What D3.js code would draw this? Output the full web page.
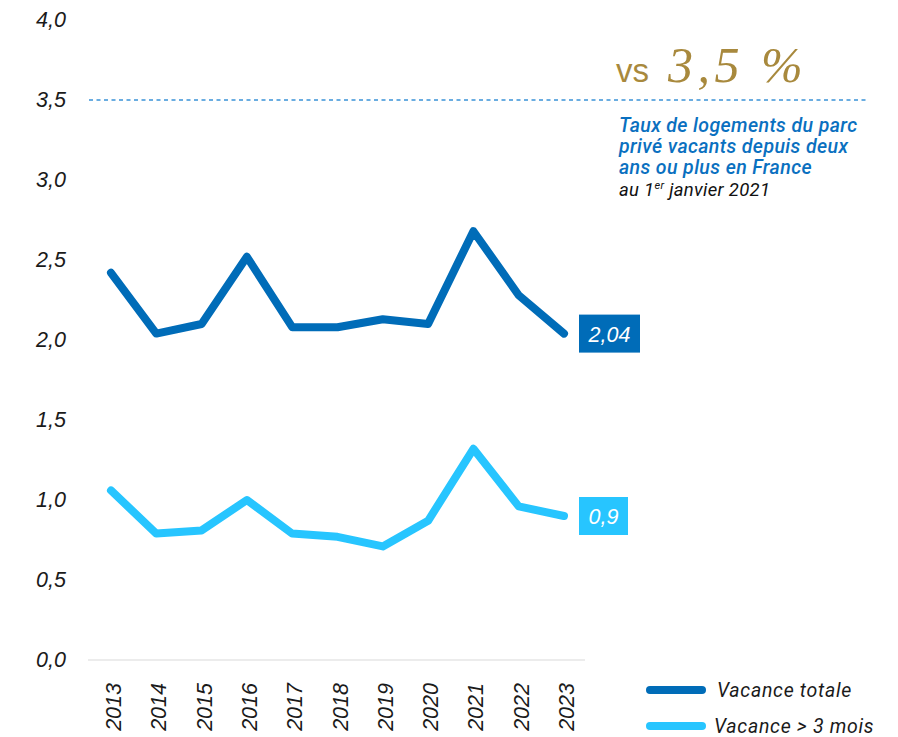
<!DOCTYPE html>
<html>
<head>
<meta charset="utf-8">
<script src="https://cdn.jsdelivr.net/npm/d3@7"></script>
<style>
  body { margin: 0; background: #fff; }
</style>
</head>
<body>
<div id="chart"></div>
<script>
var years = [2013, 2014, 2015, 2016, 2017, 2018, 2019, 2020, 2021, 2022, 2023];
var vacanceTotale = [2.42, 2.04, 2.10, 2.52, 2.08, 2.08, 2.13, 2.10, 2.68, 2.28, 2.04];
var vacance3mois = [1.06, 0.79, 0.81, 1.00, 0.79, 0.77, 0.71, 0.87, 1.32, 0.96, 0.90];
var yTicks = [0, 0.5, 1, 1.5, 2, 2.5, 3, 3.5, 4];
var seriesNames = ["Vacance totale", "Vacance > 3 mois"];
var endLabels = ["2,04", "0,9"];
var reference = 3.5;

var colors = ["#006CB8", "#27C5FF"];

var W = 898, H = 737;
var sans = "'Liberation Sans', Arial, sans-serif";

var x = d3.scaleLinear()
    .domain([2013, 2023])
    .range([111, 564]);

var y = d3.scaleLinear()
    .domain([0, 4])
    .range([660, 20]);

var fmt = function(d) { return d3.format(".1f")(d).replace(".", ","); };

var svg = d3.select("#chart").append("svg")
    .attr("width", W)
    .attr("height", H)
    .attr("font-family", sans);

// y axis labels
var yAxis = d3.axisLeft(y)
    .tickValues(yTicks)
    .tickFormat(fmt)
    .tickSize(0)
    .tickPadding(0);
var gy = svg.append("g")
    .attr("transform", "translate(66,0)")
    .call(yAxis);
gy.select(".domain").remove();
gy.attr("font-family", sans).attr("font-size", 21.5);
gy.selectAll("text")
    .attr("font-style", "italic")
    .attr("fill", "#1a1a1a");

// baseline
svg.append("line")
    .attr("x1", 88).attr("x2", 585)
    .attr("y1", y(0)).attr("y2", y(0))
    .attr("stroke", "#d9d9d9")
    .attr("stroke-width", 1);

// x axis labels
var gx = svg.append("g").attr("class", "x axis");
gx.selectAll("text")
    .data(years)
  .enter().append("text")
    .attr("transform", function(d) { return "translate(" + (x(d) + 10) + ",683) rotate(-90)"; })
    .attr("text-anchor", "end")
    .attr("font-size", 21.5)
    .attr("font-style", "italic")
    .attr("fill", "#1a1a1a")
    .text(function(d) { return d; });

// reference line
svg.append("line")
    .attr("x1", 89).attr("x2", 866)
    .attr("y1", y(reference)).attr("y2", y(reference))
    .attr("stroke", "#3A93D8")
    .attr("stroke-width", 1.3)
    .attr("stroke-dasharray", "4,3.5");

// annotation
svg.append("text")
    .attr("x", 616)
    .attr("y", 82)
    .attr("fill", "#A8893D")
    .attr("font-size", 33)
    .text("vs");
svg.append("text")
    .attr("x", 668)
    .attr("y", 82)
    .attr("fill", "#A8893D")
    .attr("font-size", 50)
    .attr("font-style", "italic")
    .attr("letter-spacing", 4.5)
    .attr("font-family", "'Liberation Serif', 'Times New Roman', serif")
    .text("3,5 %");

var noteLines = ["Taux de logements du parc", "privé vacants depuis deux", "ans ou plus en France"];
svg.selectAll("text.note")
    .data(noteLines)
  .enter().append("text")
    .attr("class", "note")
    .attr("x", 619)
    .attr("y", function(d, i) { return 132 + i * 21; })
    .attr("font-size", 19.5)
    .attr("font-style", "italic")
    .attr("font-weight", 500)
    .attr("letter-spacing", 0.4)
    .attr("font-family", "Roboto, sans-serif")
    .attr("fill", "#0A70C0")
    .text(function(d) { return d; });

var dateNote = svg.append("text")
    .attr("x", 619)
    .attr("y", 196)
    .attr("font-size", 18.5)
    .attr("font-style", "italic")
    .attr("letter-spacing", 0.3)
    .attr("font-family", "Roboto, sans-serif")
    .attr("fill", "#111");
dateNote.append("tspan").text("au 1");
dateNote.append("tspan").attr("font-size", 11).attr("dy", -7).text("er");
dateNote.append("tspan").attr("dy", 7).text(" janvier 2021");

// lines
var line = d3.line()
    .x(function(d, i) { return x(years[i]); })
    .y(function(d) { return y(d); });

var allSeries = [vacanceTotale, vacance3mois];

svg.selectAll("path.serie")
    .data(allSeries)
  .enter().append("path")
    .attr("class", "serie")
    .attr("d", line)
    .attr("fill", "none")
    .attr("stroke", function(d, i) { return colors[i]; })
    .attr("stroke-width", 8)
    .attr("stroke-linejoin", "round")
    .attr("stroke-linecap", "round");

// end labels
var boxW = [61, 49];
allSeries.forEach(function(s, i) {
    var v = s[s.length - 1];
    var cy = y(v);
    svg.append("rect")
        .attr("x", 579)
        .attr("y", cy - 19)
        .attr("width", boxW[i])
        .attr("height", 38)
        .attr("fill", colors[i]);
    svg.append("text")
        .attr("x", 579 + boxW[i] / 2)
        .attr("y", cy + 8)
        .attr("text-anchor", "middle")
        .attr("font-size", 21.5)
        .attr("font-style", "italic")
        .attr("fill", "#fff")
        .text(endLabels[i]);
});

// legend
var legend = svg.selectAll("g.legend")
    .data(seriesNames)
  .enter().append("g")
    .attr("class", "legend")
    .attr("transform", function(d, i) { return "translate(650," + (690 + i * 36) + ")"; });
legend.append("line")
    .attr("x1", 0).attr("x2", 52)
    .attr("stroke", function(d, i) { return colors[i]; })
    .attr("stroke-width", 8)
    .attr("stroke-linecap", "round");
legend.append("text")
    .attr("x", function(d, i) { return i === 0 ? 67 : 64; })
    .attr("y", 7)
    .attr("font-size", 19.5)
    .attr("font-style", "italic")
    .attr("letter-spacing", 0.7)
    .attr("font-family", "Roboto, sans-serif")
    .attr("fill", "#1a1a1a")
    .text(function(d) { return d; });
</script>
</body>
</html>
